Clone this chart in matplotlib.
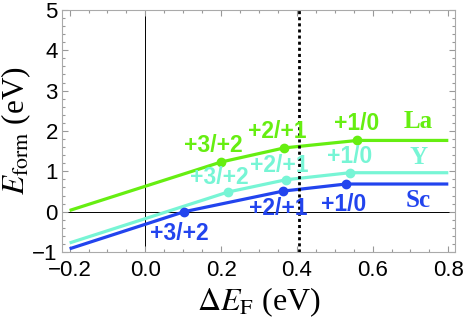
import matplotlib
matplotlib.use("Agg")
import matplotlib.pyplot as plt
from matplotlib.ticker import MultipleLocator

plt.rcParams['mathtext.fontset'] = 'stix'

# charge transition levels (kinks) plus line end points, per dopant
la_x = [-0.2, 0.2, 0.367, 0.56, 0.8]
la_y = [0.03, 1.23, 1.58, 1.765, 1.765]
y_x = [-0.2, 0.2185, 0.371, 0.540, 0.8]
y_y = [-0.775, 0.487, 0.79, 0.965, 0.965]
sc_x = [-0.2, 0.103, 0.364, 0.530, 0.8]
sc_y = [-0.92, 0.0, 0.51, 0.685, 0.685]

dopants = ['La', 'Y', 'Sc']
transitions = ['+3/+2', '+2/+1', '+1/0']
gap_edge = 0.407

colors = {'La': '#66ee11', 'Y': '#77f5d5', 'Sc': '#2244ee'}
series = {'La': (la_x, la_y), 'Y': (y_x, y_y), 'Sc': (sc_x, sc_y)}
# label offsets (pixels) from each kink point
offsets = {
    'La': [(-8, 17), (-7, 16), (-1, 17)],
    'Y': [(-9, 15), (-7, 14), (0, 16)],
    'Sc': [(-5, -22), (-5, -17), (-2, -20)],
}
name_offsets = {'La': 19, 'Y': 15, 'Sc': -16}

fig = plt.figure(figsize=(4.63, 3.19), dpi=100)
ax = fig.add_axes([0.134, 0.21, 0.849, 0.759])

ax.axhline(0, color='black', lw=0.7, zorder=1)
ax.axvline(0, color='black', lw=0.7, zorder=1)
ax.axvline(gap_edge, color='black', lw=2, ls=(0, (1.1, 1.1)), zorder=5)

px = 0.72  # pixels -> points
for name in ['Y', 'Sc', 'La']:
    xs, ys = series[name]
    c = colors[name]
    ax.plot(xs, ys, color=c, lw=2.3, solid_capstyle='butt', zorder=3)
    ax.plot(xs[1:4], ys[1:4], 'o', color=c, ms=6, zorder=4)
    for i, lab in enumerate(transitions):
        dx, dy = offsets[name][i]
        ax.annotate(lab, (xs[i + 1], ys[i + 1]), xytext=(dx * px, dy * px),
                    textcoords='offset points', ha='center', va='center',
                    color=c, fontsize=16.5, fontweight='bold',
                    family='Liberation Sans', zorder=6)
    ax.annotate(name, (0.721, ys[-1]), xytext=(0, name_offsets[name] * px),
                textcoords='offset points', ha='center', va='center',
                color=c, fontsize=18, fontweight='bold',
                family='Liberation Serif', zorder=6)

ax.set_xlim(-0.22, 0.818)
ax.set_ylim(-1.0, 5.0)
ax.xaxis.set_major_locator(MultipleLocator(0.2))
ax.xaxis.set_minor_locator(MultipleLocator(0.05))
ax.yaxis.set_major_locator(MultipleLocator(1))
ax.yaxis.set_minor_locator(MultipleLocator(0.2))
ax.tick_params(which='both', direction='in', top=True, right=True,
               color='#999999', width=0.8)
ax.tick_params(which='major', length=4, labelsize=16, pad=3)
ax.tick_params(axis='x', which='major', pad=6)
ax.tick_params(which='minor', length=2)
ax.set_xticks([-0.2, 0.0, 0.2, 0.4, 0.6, 0.8])
ax.set_xticklabels(['\u22120.2', '0.0', '0.2', '0.4', '0.6', '0.8'])
ax.set_yticks(range(-1, 6))
ax.set_yticklabels(['\u22121', '0', '1', '2', '3', '4', '5'])
for lbl in ax.get_xticklabels() + ax.get_yticklabels():
    lbl.set_family('Liberation Sans')
for s in ax.spines.values():
    s.set_color('#aaaaaa')
    s.set_linewidth(0.8)

fig.text(0.5585, 0.053, r'$\Delta E_{\mathrm{F}}$ (eV)', fontsize=23,
         family='Liberation Serif', ha='center', va='center')
fig.text(0.034, 0.592, r'$E_{\mathrm{form}}$ (eV)', fontsize=22.5,
         family='Liberation Serif', ha='center', va='center', rotation=90)

fig.savefig('out.png', dpi=100)
